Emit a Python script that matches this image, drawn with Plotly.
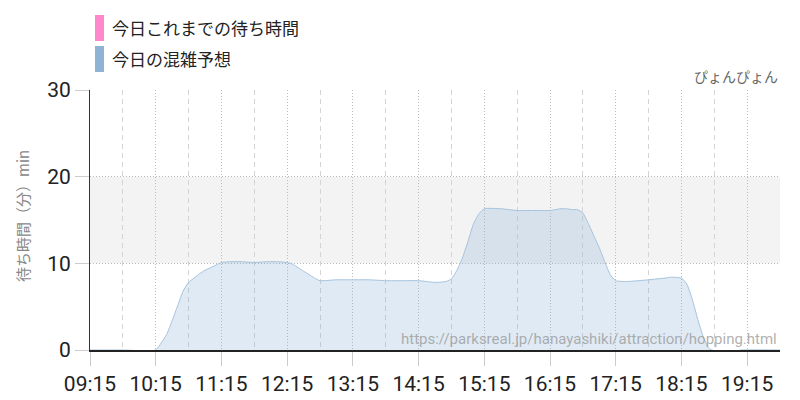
import plotly.graph_objects as go

DAY = "2024-01-01 "
times = ["09:15", "09:30", "09:45", "10:00", "10:05", "10:10", "10:15", "10:20", "10:25",
         "10:30", "10:35", "10:40", "10:45", "10:50", "10:55", "11:00", "11:05", "11:10",
         "11:15", "11:30", "11:45", "12:00", "12:15", "12:20", "12:25", "12:30", "12:35",
         "12:40", "12:45", "13:00", "13:15", "13:30", "13:45", "14:00", "14:15", "14:30",
         "14:40", "14:45", "14:50", "14:55", "15:00", "15:05", "15:10", "15:15", "15:30",
         "15:45", "16:00", "16:15", "16:25", "16:30", "16:35", "16:40", "16:45", "16:50",
         "16:55", "17:00", "17:05", "17:10", "17:15", "17:25", "17:45", "18:00", "18:05",
         "18:15", "18:20", "18:25", "18:30", "18:35", "18:40", "18:45", "18:50", "19:00",
         "19:05", "19:10", "19:45"]
forecast = [0, 0, 0, -0.1, -0.25, -0.2, 0.0, 0.8, 1.8,
            3.4, 5.1, 6.8, 7.8, 8.3, 8.8, 9.2, 9.5, 9.8,
            10.1, 10.2, 10.1, 10.2, 10.1, 9.9, 9.5, 9.1, 8.7,
            8.3, 8.0, 8.1, 8.1, 8.1, 8.0, 8.0, 8.0, 7.8,
            7.9, 8.2, 9.2, 10.6, 12.5, 14.5, 15.7, 16.3, 16.3,
            16.1, 16.1, 16.1, 16.3, 16.3, 16.2, 16.2, 15.8, 14.6,
            13.2, 11.8, 10.2, 8.7, 8.0, 7.9, 8.1, 8.3, 8.4,
            8.3, 7.6, 5.8, 3.5, 1.5, 0.2, -0.1, -0.2, -0.2,
            -0.1, 0.0, 0.0]
today_times = []
today_values = []

legend_labels = ["今日これまでの待ち時間", "今日の混雑予想"]
legend_colors = ["#ff88cc", "#8fb3d4"]
y_ticks = [0, 10, 20, 30]
x_range = ["09:15", "19:45"]
half_hour_start = "09:45"
band = [10, 20]
y_title = "待ち時間（分）min"
subtitle = "ぴょんぴょん"
watermark = "https://parksreal.jp/hanayashiki/attraction/hopping.html"

JP = "Noto Sans CJK JP"
NUM = "Roboto"

fig = go.Figure()
fig.add_trace(go.Scatter(
    x=[DAY + t for t in times], y=forecast, mode="lines",
    line=dict(color="#a5c3de", width=1, shape="spline", smoothing=0.5),
    fill="tozeroy", fillcolor="rgba(130,172,212,0.25)", showlegend=False, hoverinfo="skip"))
fig.add_trace(go.Scatter(
    x=[DAY + t for t in today_times], y=today_values, mode="lines",
    line=dict(color=legend_colors[0], width=2), showlegend=False))

fig.add_shape(type="rect", xref="paper", yref="y", x0=0, x1=1, y0=band[0], y1=band[1],
              fillcolor="#f3f3f3", line_width=0, layer="below")

# legend (manual)
for i, (lab, col) in enumerate(zip(legend_labels, legend_colors)):
    yc = 28 + i * 31
    fig.add_shape(type="rect", xref="paper", yref="paper",
                  x0=(95 - 90) / 690, x1=(104 - 90) / 690,
                  y0=(350 - (yc - 13)) / 260, y1=(350 - (yc + 13)) / 260,
                  fillcolor=col, line_width=0)
    fig.add_annotation(xref="paper", yref="paper", x=(110 - 90) / 690, y=(350 - yc) / 260,
                       text=lab, showarrow=False, xanchor="left", yanchor="middle",
                       font=dict(family=JP, size=17, color="#222"))

fig.add_annotation(xref="paper", yref="paper", x=1, y=(350 - 76) / 260, text=subtitle,
                   showarrow=False, xanchor="right", yanchor="middle",
                   font=dict(family=JP, size=14, color="#666"))
fig.add_annotation(xref="paper", yref="paper", x=(779 - 90) / 690, y=(350 - 339) / 260,
                   text=watermark, showarrow=False, xanchor="right", yanchor="middle",
                   font=dict(family="Roboto", size=15, color="rgba(150,150,150,0.75)"))
fig.add_annotation(xref="paper", yref="paper", x=(22 - 90) / 690, y=(350 - 216) / 260,
                   text=y_title, textangle=-90, showarrow=False, xanchor="center", yanchor="middle",
                   font=dict(family=JP, size=15, color="#888"))

xr = [DAY + x_range[0], DAY + x_range[1]]
fig.update_layout(
    xaxis=dict(
        type="date", range=xr,
        tick0=DAY + x_range[0], dtick=3600000, tickformat="%H:%M",
        showgrid=True, gridcolor="#bdbdbd", griddash="1px,2px", gridwidth=1,
        ticks="outside", ticklen=14, tickcolor="#cccccc",
        showline=True, linecolor="#222", linewidth=1.5, automargin=False,
        tickfont=dict(family=NUM, size=21, color="#222"), zeroline=False, fixedrange=True),
    xaxis2=dict(
        type="date", range=xr, overlaying="x", side="bottom", matches="x",
        tick0=DAY + half_hour_start, dtick=3600000, showticklabels=False, ticks="",
        showgrid=True, gridcolor="#d4d4d4", griddash="5px,4px", gridwidth=1,
        showline=False, zeroline=False, automargin=False, fixedrange=True),
    yaxis=dict(
        range=[0, 30], tickvals=y_ticks, showgrid=True, gridcolor="#bbbbbb", griddash="1px,2px",
        ticks="outside", ticklen=14, tickcolor="#cccccc", automargin=False,
        showline=True, linecolor="#333", linewidth=1, zeroline=False,
        tickfont=dict(family=NUM, size=21, color="#222"), fixedrange=True),
    width=800, height=400, margin=dict(l=90, r=20, t=90, b=50),
    paper_bgcolor="white", plot_bgcolor="white", showlegend=False)

# invisible trace to activate the half-hour grid axis
fig.add_trace(go.Scatter(x=[], y=[], xaxis="x2", yaxis="y", showlegend=False))

fig.write_html("out.html", config={"displayModeBar": False},
               post_script="document.body.style.margin='0';")
